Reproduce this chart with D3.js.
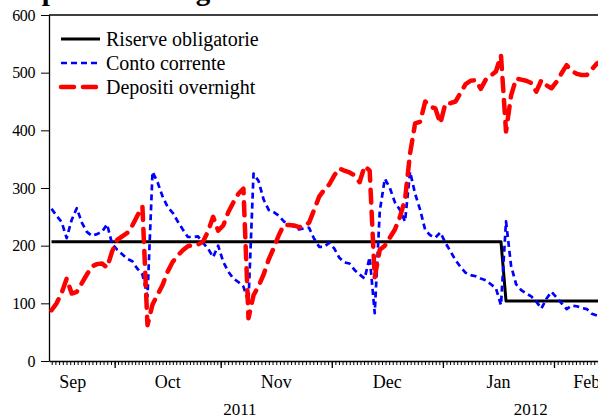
<!DOCTYPE html>
<html>
<head>
<meta charset="utf-8">
<script src="https://cdn.jsdelivr.net/npm/d3@7"></script>
<style>
  body { margin: 0; background: #fff; }
  text { font-family: "Liberation Serif", "Times New Roman", serif; }
</style>
</head>
<body>
<div id="chart-area"></div>
<script>
// values, one per business day from 14 Sep 2011
const seriesNames = ["Riserve obligatorie", "Conto corrente", "Depositi overnight"];

const riserve = [
  207, 207, 207, 207, 207, 207, 207, 207, 207, 207,
  207, 207, 207, 207, 207, 207, 207, 207, 207, 207,
  207, 207, 207, 207, 207, 207, 207, 207, 207, 207,
  207, 207, 207, 207, 207, 207, 207, 207, 207, 207,
  207, 207, 207, 207, 207, 207, 207, 207, 207, 207,
  207, 207, 207, 207, 207, 207, 207, 207, 207, 207,
  207, 207, 207, 207, 207, 207, 207, 207, 207, 207,
  207, 207, 207, 207, 207, 207, 207, 207, 207, 207,
  207, 207, 207, 207, 207, 207, 207, 207, 207, 207,
  104, 104, 104, 104, 104, 104, 104, 104, 104, 104,
  104, 104, 104, 104, 104, 104, 104, 104, 104, 104
];

const contoCorrente = [
  264, 252, 241, 213, 245, 265, 240, 224, 217, 220,
  224, 237, 203, 193, 185, 177, 173, 160, 150, 112,
  328, 310, 285, 267, 257, 242, 228, 215, 215, 216,
  205, 195, 180, 200, 172, 155, 143, 137, 129, 103,
  325, 312, 280, 262, 258, 252, 242, 238, 233, 228,
  230, 231, 212, 198, 198, 205, 195, 179, 171, 169,
  158, 150, 143, 180, 83, 260, 316, 300, 275, 262,
  242, 328, 290, 262, 227, 218, 214, 223, 205, 190,
  175, 163, 153, 149, 147, 143, 140, 133, 126, 97,
  242, 165, 133, 123, 117, 112, 103, 91, 108, 120,
  110, 100, 90, 96, 95, 92, 90, 82, 79, 78
];

const depositiOvernight = [
  88, 100, 118, 143, 117, 120, 135, 150, 164, 168,
  169, 162, 190, 210, 216, 222, 235, 252, 268, 62,
  98, 115, 132, 155, 172, 183, 192, 199, 201, 202,
  207, 225, 250, 226, 235, 258, 275, 290, 299, 74,
  114, 130, 150, 176, 196, 218, 236, 236, 235, 232,
  234, 240, 262, 285, 297, 306, 322, 334, 330, 327,
  322, 310, 338, 330, 145, 193, 200, 214, 228, 250,
  280, 360, 412, 415, 450, 441, 438, 412, 447, 447,
  450, 465, 480, 486, 487, 472, 488, 495, 502, 530,
  398, 460, 490, 488, 486, 482, 467, 487, 478, 473,
  484, 499, 513, 503, 498, 496, 496, 506, 516, 520
];

const yTicks = [0, 100, 200, 300, 400, 500, 600];
const monthNames = ["Sep", "Oct", "Nov", "Dec", "Jan", "Feb"];
const yearNames = ["2011", "2012"];

// layout (business-day units for the x positions of the labels)
const monthLabelAt = [4.7, 23.5, 45, 67, 89, 106.5];
const yearLabelAt = [37.8, 95.4];

const chartTitle = "Depositi overnight e riserve";

const svgWidth = 598, svgHeight = 419;
const plotLeft = 49, plotTop = 15, plotBottom = 361;
const dayWidth = 5.05;

// 5-day calendar: Sep 14 2011 .. Feb 14 2012
const bizDays = d3.timeDay.range(new Date(2011, 8, 14), new Date(2012, 1, 15))
    .filter(d => d.getDay() % 6 !== 0);
const nDays = bizDays.length;

const svg = d3.select("#chart-area")
    .append("svg")
    .attr("width", svgWidth)
    .attr("height", svgHeight)
    .style("display", "block");

const x = d3.scaleLinear().domain([0, nDays]).range([plotLeft, plotLeft + nDays * dayWidth]);
const y = d3.scaleLinear().domain([0, 600]).range([plotBottom, plotTop]);

// month boundaries (index of the first business day of each month)
const monthStarts = [];
bizDays.forEach((d, i) => {
    if (i > 0 && d.getMonth() !== bizDays[i - 1].getMonth()) monthStarts.push(i);
});

// minor ticks: calendar days spread across each business-day month
const minorTicks = [];
const allStarts = [monthStarts[0] - 22, ...monthStarts, monthStarts[monthStarts.length - 1] + 21];
const firstMonth = new Date(2011, 8, 1);
for (let m = 0; m < allStarts.length - 1; m++) {
    const mDate = d3.timeMonth.offset(firstMonth, m);
    const nCal = d3.timeDay.count(mDate, d3.timeMonth.offset(mDate, 1));
    const span = allStarts[m + 1] - allStarts[m];
    for (let k = 0; k < nCal; k++) {
        const v = allStarts[m] + k * span / nCal;
        if (v > 0 && v < nDays) minorTicks.push(v);
    }
}

// title (mostly cut off at the top)
svg.append("text")
    .attr("x", 8)
    .attr("y", 0)
    .attr("font-size", "29px")
    .attr("font-weight", "bold")
    .text(chartTitle);

// top border
svg.append("line")
    .attr("x1", x(0)).attr("x2", x(nDays))
    .attr("y1", plotTop).attr("y2", plotTop)
    .attr("stroke", "#000").attr("stroke-width", 1.3);

// x axis: minor then major ticks
svg.append("g")
    .attr("transform", `translate(0,${plotBottom})`)
    .call(d3.axisBottom(x).tickValues(minorTicks).tickSize(4).tickSizeOuter(0).tickFormat(""))
    .call(g => g.selectAll("line").attr("stroke", "#000"))
    .call(g => g.select(".domain").attr("stroke", "#000").attr("stroke-width", 1.3));

svg.append("g")
    .attr("transform", `translate(0,${plotBottom})`)
    .call(d3.axisBottom(x).tickValues(monthStarts).tickSize(7).tickSizeOuter(0).tickFormat(""))
    .call(g => g.select(".domain").remove())
    .call(g => g.selectAll("line").attr("stroke", "#000").attr("stroke-width", 1.3));

svg.selectAll(".month-label")
    .data(monthNames)
    .enter().append("text")
    .attr("class", "month-label")
    .attr("x", (d, i) => x(monthLabelAt[i]))
    .attr("y", 388)
    .attr("text-anchor", "middle")
    .attr("font-size", "18px")
    .text(d => d);

svg.selectAll(".year-label")
    .data(yearNames)
    .enter().append("text")
    .attr("class", "year-label")
    .attr("x", (d, i) => x(yearLabelAt[i]))
    .attr("y", 415)
    .attr("text-anchor", "middle")
    .attr("font-size", "17px")
    .text(d => d);

// y axis
svg.append("g")
    .attr("transform", `translate(${plotLeft},0)`)
    .call(d3.axisLeft(y).tickValues(yTicks).tickSize(8).tickPadding(6).tickSizeOuter(0))
    .call(g => g.select(".domain").attr("stroke", "#000").attr("stroke-width", 1.3))
    .call(g => g.selectAll("line").attr("stroke", "#000"))
    .call(g => g.selectAll("text")
        .style("font-family", "'Liberation Serif', 'Times New Roman', serif")
        .style("font-size", "16px")
        .style("letter-spacing", "-0.4px")
        .attr("fill", "#000"));

// series
const styles = [
    { color: "#000000", width: 3, dash: null, cap: "butt" },
    { color: "#0000ff", width: 2.7, dash: "6,4", cap: "butt" },
    { color: "#ff0000", width: 4.5, dash: "13,9", cap: "round" }
];
const allSeries = [riserve, contoCorrente, depositiOvernight];

const line = d3.line()
    .x((d, i) => x(i + 0.5))
    .y(d => y(d));

// draw order: reserves first, then current account, overnight on top
allSeries.forEach((vals, k) => {
    svg.append("path")
        .datum(vals)
        .attr("fill", "none")
        .attr("stroke", styles[k].color)
        .attr("stroke-width", styles[k].width)
        .attr("stroke-dasharray", styles[k].dash)
        .attr("stroke-linecap", styles[k].cap)
        .attr("stroke-linejoin", "round")
        .attr("d", line);
});

// legend
const legend = svg.append("g").attr("class", "legend");
const legendRows = legend.selectAll(".legend-row")
    .data(seriesNames)
    .enter().append("g")
    .attr("class", "legend-row")
    .attr("transform", (d, i) => `translate(0, ${39 + i * 24})`);

legendRows.append("line")
    .attr("x1", 61).attr("x2", 100)
    .attr("y1", 0).attr("y2", 0)
    .attr("stroke", (d, i) => styles[i].color)
    .attr("stroke-width", (d, i) => styles[i].width)
    .attr("stroke-dasharray", (d, i) => styles[i].dash)
    .attr("stroke-linecap", (d, i) => styles[i].cap);

legendRows.append("text")
    .attr("x", 106)
    .attr("y", 7)
    .attr("font-size", "20px")
    .attr("fill", "#000")
    .text(d => d);
</script>
</body>
</html>
